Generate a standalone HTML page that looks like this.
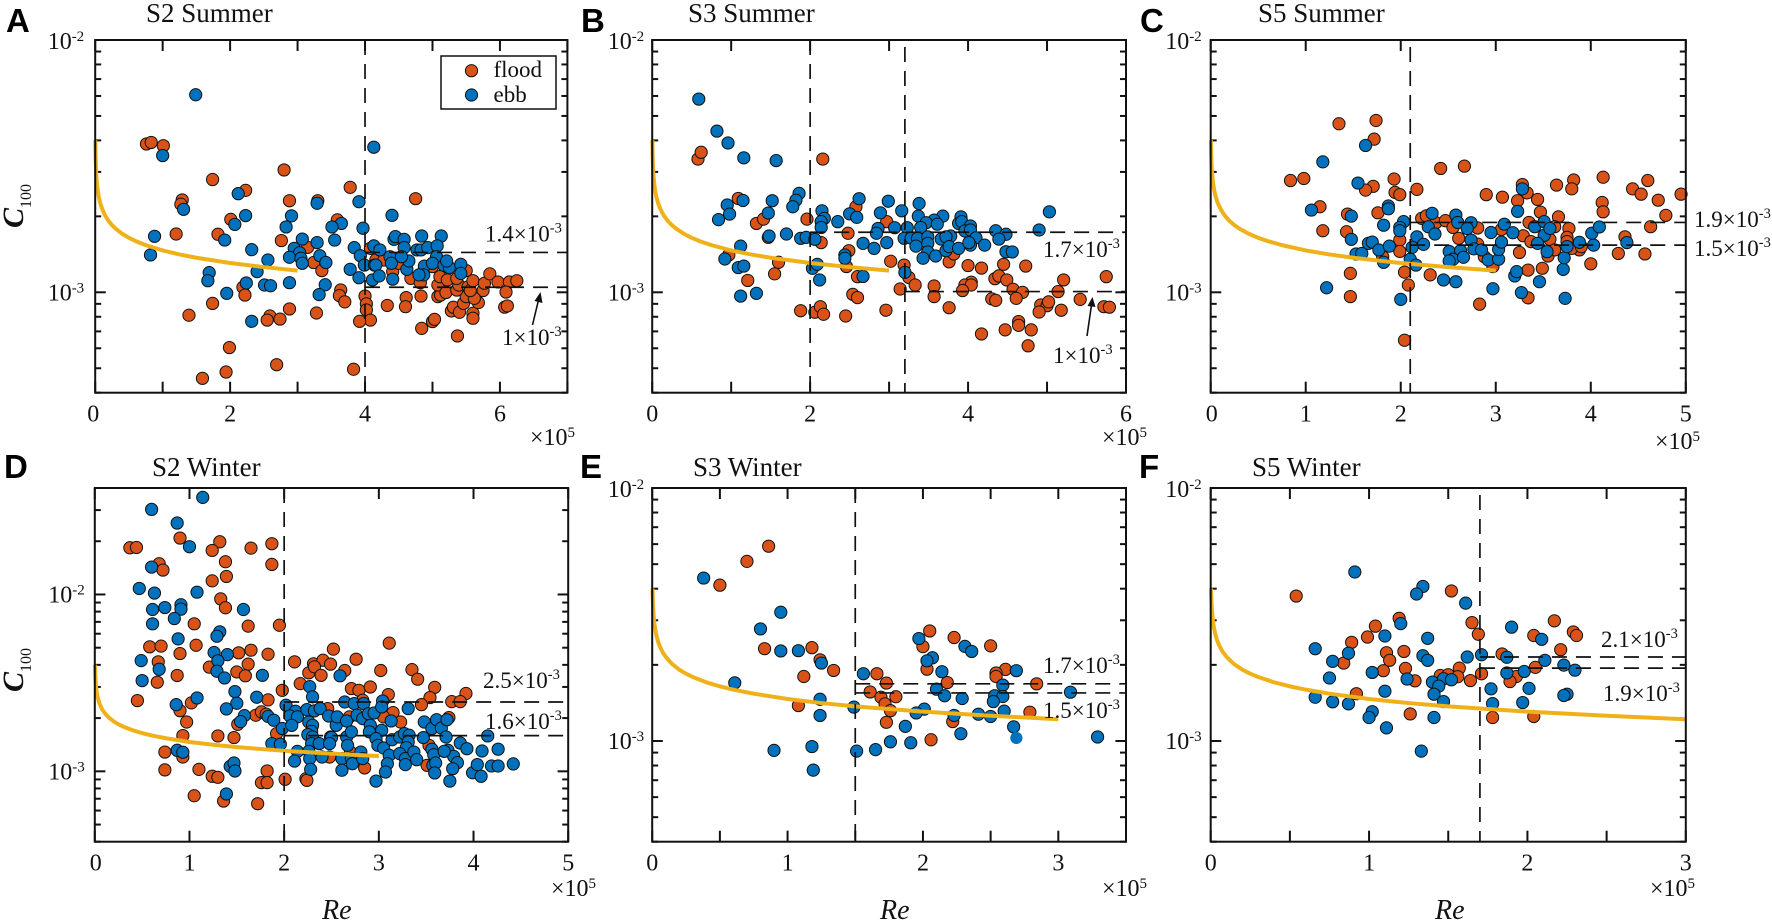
<!DOCTYPE html>
<html lang="en">
<head>
<meta charset="utf-8">
<title>C100 versus Re at S2, S3 and S5</title>
<style>
html,body{margin:0;padding:0;background:#fff;}
svg{display:block;}
text{font-family:"Liberation Serif",serif;fill:#111;}
.letter{font-family:"Liberation Sans",sans-serif;font-weight:700;font-size:33px;fill:#000;}
.title{font-size:27px;}
.note{font-size:23px;}
.re{font-size:28px;font-style:italic;}
.leg{font-size:23px;}
.mag{font-size:24px;}
</style>
</head>
<body>
<svg id="figure" xmlns="http://www.w3.org/2000/svg" width="1772" height="924" viewBox="0 0 1772 924">
<rect x="0" y="0" width="1772" height="924" fill="#fff"/>
<g id="plots"></g>
<g>
  <text class="letter" x="6" y="32">A</text>
  <text class="letter" x="581" y="32">B</text>
  <text class="letter" x="1140" y="32">C</text>
  <text class="letter" x="4" y="478">D</text>
  <text class="letter" x="580" y="478">E</text>
  <text class="letter" x="1139" y="478">F</text>

  <text class="title" x="146" y="22">S2 Summer</text>
  <text class="title" x="688" y="22">S3 Summer</text>
  <text class="title" x="1258" y="22">S5 Summer</text>
  <text class="title" x="152" y="476">S2 Winter</text>
  <text class="title" x="693" y="476">S3 Winter</text>
  <text class="title" x="1252" y="476">S5 Winter</text>

  <text transform="translate(23,228) rotate(-90)"><tspan font-size="30" font-style="italic" font-weight="700">C</tspan><tspan font-size="16" dy="8">100</tspan></text>
  <text transform="translate(23,692) rotate(-90)"><tspan font-size="30" font-style="italic" font-weight="700">C</tspan><tspan font-size="16" dy="8">100</tspan></text>
  <text class="re" x="322" y="919">Re</text>
  <text class="re" x="880" y="919">Re</text>
  <text class="re" x="1435" y="919">Re</text>

  <text class="mag" x="530" y="445">×10<tspan font-size="15" dy="-8">5</tspan></text>
  <text class="mag" x="1102" y="445">×10<tspan font-size="15" dy="-8">5</tspan></text>
  <text class="mag" x="1655" y="449">×10<tspan font-size="15" dy="-8">5</tspan></text>
  <text class="mag" x="551" y="896">×10<tspan font-size="15" dy="-8">5</tspan></text>
  <text class="mag" x="1102" y="896">×10<tspan font-size="15" dy="-8">5</tspan></text>
  <text class="mag" x="1650" y="896">×10<tspan font-size="15" dy="-8">5</tspan></text>

  <text class="note" x="485" y="241.5">1.4×10<tspan font-size="14.5" dy="-9">-3</tspan></text>
  <text class="note" x="502" y="345">1×10<tspan font-size="14.5" dy="-9">-3</tspan></text>
  <text class="note" x="1043" y="257">1.7×10<tspan font-size="14.5" dy="-9">-3</tspan></text>
  <text class="note" x="1053" y="363">1×10<tspan font-size="14.5" dy="-9">-3</tspan></text>
  <text class="note" x="1694" y="227">1.9×10<tspan font-size="14.5" dy="-9">-3</tspan></text>
  <text class="note" x="1694" y="256">1.5×10<tspan font-size="14.5" dy="-9">-3</tspan></text>
  <text class="note" x="483" y="688">2.5×10<tspan font-size="14.5" dy="-9">-3</tspan></text>
  <text class="note" x="485" y="729">1.6×10<tspan font-size="14.5" dy="-9">-3</tspan></text>
  <text class="note" x="1043" y="673">1.7×10<tspan font-size="14.5" dy="-9">-3</tspan></text>
  <text class="note" x="1043" y="718">1.5×10<tspan font-size="14.5" dy="-9">-3</tspan></text>
  <text class="note" x="1601" y="647">2.1×10<tspan font-size="14.5" dy="-9">-3</tspan></text>
  <text class="note" x="1603" y="701">1.9×10<tspan font-size="14.5" dy="-9">-3</tspan></text>

  <g>
    <line x1="532.5" y1="325" x2="538.5" y2="300" stroke="#111" stroke-width="1.6"/>
    <polygon points="540.5,292 542.5,303 534.5,301" fill="#111"/>
  </g>
  <g>
    <line x1="1087" y1="336" x2="1091.5" y2="305" stroke="#111" stroke-width="1.6"/>
    <polygon points="1092.5,297 1095.5,307 1087.5,306" fill="#111"/>
  </g>

  <g>
    <rect x="441" y="56" width="115" height="53" fill="#fff" stroke="#111" stroke-width="1.5"/>
    <circle cx="471.5" cy="70.7" r="6.1" fill="#D95319" stroke="#111" stroke-width="1"/>
    <text class="leg" x="493.5" y="77">flood</text>
    <circle cx="471.5" cy="95" r="6.1" fill="#0072BD" stroke="#111" stroke-width="1"/>
    <text class="leg" x="493.5" y="102">ebb</text>
  </g>
</g>
</svg>
<script>
/* Re is in units of 10^5; C100 values are stored as log10(C100). */
const curveRe = [0.0024,0.003,0.004,0.005,0.0075,0.01,0.015,0.02,0.03,0.04,0.05,0.06,0.075,0.1,0.125,0.15,0.2,0.25,0.3,0.4,0.5,0.6,0.75,1,1.25,1.5,2,2.5,3];
const curveLogC = [-2.397,-2.414,-2.434,-2.45,-2.479,-2.501,-2.53,-2.551,-2.58,-2.601,-2.617,-2.63,-2.647,-2.667,-2.683,-2.697,-2.718,-2.734,-2.747,-2.768,-2.784,-2.797,-2.813,-2.834,-2.85,-2.863,-2.884,-2.90,-2.914];

const aFloodRe = [.76,.83,1.01,1.74,2.80,2.23,1.29,1.27,2.88,3.30,
3.78,4.75,2.01,1.20,1.82,2.76,3.59,3.15,3.24,3.36,
3.64,3.62,3.70,4.00,4.02,4.02,4.08,3.92,4.33,4.61,
4.60,4.83,4.84,5.00,5.03,5.37,5.08,5.12,5.08,5.20,
2.19,2.22,1.74,1.39,2.88,3.28,2.59,2.55,2.74,1.99,
2.69,1.94,1.59,3.83,5.28,5.31,5.40,5.46,5.50,5.60,
5.60,5.68,5.75,5.62,5.36,5.39,5.53,5.56,5.60,5.77,
5.85,5.97,6.14,6.25,6.09,6.07,6.11,5.50,5.11,5.22,
5.36,4.68,4.82,4.41,4.50,4.08,4.16,4.28,5.00,5.22];
const aFloodLogC = [-2.412,-2.406,-2.419,-2.553,-2.515,-2.596,-2.634,-2.651,-2.637,-2.637,
-2.584,-2.629,-2.711,-2.769,-2.770,-2.795,-2.713,-2.822,-2.882,-2.914,
-2.991,-3.013,-3.038,-3.015,-3.046,-3.070,-3.110,-3.115,-3.052,-3.021,
-3.057,-3.015,-3.143,-3.116,-3.107,-3.173,-3.017,-3.011,-2.971,-3.001,
-2.980,-3.011,-3.044,-3.091,-3.066,-3.082,-3.094,-3.110,-3.106,-3.219,
-3.287,-3.316,-3.341,-3.305,-3.074,-3.059,-3.079,-3.044,-3.017,-3.083,
-3.103,-3.041,-2.993,-3.024,-2.991,-2.971,-2.978,-2.993,-2.954,-2.964,
-2.927,-2.959,-2.959,-2.954,-2.999,-3.059,-3.054,-2.914,-2.938,-2.951,
-2.945,-2.945,-2.962,-2.918,-2.885,-2.826,-2.872,-2.872,-2.898,-2.898];
const aEbbRe = [1.49,4.13,1.00,2.12,3.91,3.29,1.31,4.40,2.23,2.91,
2.07,2.83,3.65,3.51,3.97,.88,1.92,3.07,3.55,3.29,
4.43,4.45,4.58,4.84,5.13,3.84,2.32,2.95,3.03,2.88,
3.05,3.07,3.33,3.42,.82,2.56,2.40,1.69,1.67,2.24,
2.51,2.60,2.88,3.41,3.32,1.95,2.32,3.78,3.91,4.11,
4.41,4.13,4.22,3.93,3.99,4.14,4.16,4.21,4.37,4.39,
4.58,4.62,4.65,4.77,4.83,4.93,5.07,5.06,4.88,4.87,
4.80,5.00,5.17,5.25,5.42,5.42,5.21,4.54];
const aEbbLogC = [-2.217,-2.425,-2.458,-2.609,-2.641,-2.647,-2.671,-2.695,-2.696,-2.697,
-2.731,-2.741,-2.727,-2.741,-2.746,-2.778,-2.793,-2.789,-2.793,-2.803,
-2.79,-2.779,-2.79,-2.777,-2.777,-2.823,-2.831,-2.826,-2.843,-2.861,
-2.865,-2.885,-2.855,-2.882,-2.852,-2.872,-2.918,-2.922,-2.954,-2.963,
-2.971,-2.974,-2.962,-2.97,-3.009,-3.004,-3.115,-2.909,-2.942,-2.951,
-2.948,-2.816,-2.832,-2.855,-2.892,-2.892,-2.892,-2.935,-2.859,-2.885,
-2.823,-2.909,-2.876,-2.832,-2.832,-2.823,-2.816,-2.859,-2.896,-2.931,
-2.931,-2.885,-2.893,-2.902,-2.889,-2.925,-2.876,-2.859];

const bFloodRe = [.58,.62,2.16,1.09,1.32,1.41,1.47,1.96,2.58,2.14,
2.48,2.97,.97,1.60,1.55,1.21,2.49,2.46,2.60,3.02,
3.19,3.25,3.33,3.14,3.57,3.57,3.76,3.76,3.82,4.00,
4.17,4.45,4.73,4.34,4.39,4.49,4.04,3.96,4.04,3.93,
4.57,4.69,5.14,5.21,5.75,5.42,4.30,4.35,4.61,4.92,
5.00,5.02,4.90,5.18,5.72,5.79,4.64,4.64,4.47,4.80,
4.17,4.76,1.88,2.06,2.13,2.17,2.45,2.96,2.54,2.60];
const bFloodLogC = [-2.472,-2.445,-2.472,-2.628,-2.727,-2.71,-2.782,-2.71,-2.661,-2.803,
-2.766,-2.72,-2.852,-2.881,-2.927,-2.953,-2.835,-2.898,-2.938,-2.877,
-2.892,-2.941,-2.971,-2.987,-2.975,-3.017,-3.061,-2.879,-2.848,-2.894,
-2.904,-2.889,-2.896,-2.946,-2.935,-2.951,-2.96,-2.971,-2.971,-2.993,
-2.988,-3.0,-2.997,-2.951,-2.938,-3.028,-3.026,-3.032,-3.024,-3.05,
-3.053,-3.038,-3.078,-3.071,-3.057,-3.059,-3.116,-3.131,-3.149,-3.149,
-3.165,-3.212,-3.073,-3.079,-3.057,-3.087,-3.094,-3.071,-3.008,-3.021];
const bEbbRe = [.59,.82,.96,1.16,1.57,1.86,1.15,.95,1.52,1.82,
1.78,.98,.84,1.47,2.62,2.99,3.38,2.15,2.89,3.16,
2.50,2.59,2.18,2.14,2.35,2.14,3.37,3.68,3.57,3.47,
3.61,3.91,3.88,3.92,4.03,3.40,3.23,3.07,2.86,2.84,
1.70,1.48,1.88,1.95,2.06,4.35,4.48,4.90,5.03,3.96,
4.03,4.10,4.21,4.39,4.48,4.56,3.19,3.28,3.36,3.49,
3.78,3.66,3.72,2.97,2.67,2.81,3.34,3.49,3.49,3.59,
3.43,3.72,3.76,3.88,4.03,4.01,1.12,2.44,2.44,.92,
1.09,1.16,2.03,2.09,2.12,2.67,3.20,1.12,1.32];
const bEbbLogC = [-2.234,-2.361,-2.408,-2.467,-2.478,-2.608,-2.636,-2.654,-2.637,-2.635,
-2.661,-2.69,-2.712,-2.686,-2.629,-2.639,-2.648,-2.677,-2.685,-2.677,
-2.689,-2.703,-2.707,-2.72,-2.72,-2.743,-2.698,-2.698,-2.714,-2.724,
-2.73,-2.701,-2.727,-2.72,-2.737,-2.743,-2.744,-2.744,-2.747,-2.766,
-2.769,-2.777,-2.786,-2.782,-2.79,-2.756,-2.77,-2.753,-2.681,-2.757,
-2.753,-2.784,-2.813,-2.789,-2.839,-2.84,-2.786,-2.785,-2.786,-2.78,
-2.777,-2.789,-2.78,-2.803,-2.806,-2.826,-2.817,-2.806,-2.84,-2.856,
-2.865,-2.835,-2.819,-2.826,-2.813,-2.803,-2.817,-2.852,-2.865,-2.868,
-2.902,-2.896,-2.905,-2.889,-2.951,-2.937,-2.921,-3.015,-3.004];

const cFloodRe = [1.35,1.74,1.72,.84,.98,1.93,1.71,1.63,1.94,1.99,
2.17,2.42,2.67,2.90,3.07,3.28,3.33,3.44,3.23,3.64,
3.82,3.80,4.13,4.44,4.60,4.53,4.71,4.95,4.79,4.12,
4.13,1.15,1.76,1.44,1.18,1.43,1.99,1.99,1.47,1.47,
2.04,2.08,2.04,2.31,2.83,3.34,3.34,3.49,3.25,4.00,
4.29,4.57,4.36,4.63,3.47,3.66,3.35,3.77,3.75,3.75,
3.62,3.57,3.29,3.37,3.06,2.97,3.55,3.62,3.88,3.80,
3.90,2.22,2.27,2.37,2.47,2.55,2.81,2.61,2.81,2.88,
1.81];
const cFloodLogC = [-2.332,-2.319,-2.393,-2.557,-2.549,-2.551,-2.58,-2.595,-2.604,-2.613,
-2.592,-2.509,-2.5,-2.613,-2.623,-2.573,-2.606,-2.632,-2.637,-2.575,
-2.555,-2.59,-2.544,-2.59,-2.557,-2.611,-2.635,-2.611,-2.695,-2.644,
-2.681,-2.661,-2.685,-2.69,-2.756,-2.76,-2.793,-2.838,-2.925,-3.017,
-2.92,-2.971,-3.19,-2.931,-3.047,-3.022,-2.912,-2.905,-2.842,-2.887,
-2.846,-2.848,-2.78,-2.74,-2.682,-2.701,-2.723,-2.747,-2.782,-2.799,
-2.74,-2.79,-2.776,-2.799,-2.751,-2.898,-2.856,-2.832,-2.832,-2.826,
-2.819,-2.707,-2.697,-2.724,-2.716,-2.743,-2.745,-2.786,-2.809,-2.859,
-2.859];
const cEbbRe = [1.63,1.18,1.55,1.06,1.87,1.87,1.48,1.82,2.03,1.99,
1.99,1.48,1.66,1.70,1.53,1.59,1.77,1.88,1.82,1.22,
2.00,2.33,2.29,2.36,2.17,2.24,2.12,2.10,2.16,2.58,
2.60,2.74,2.70,2.74,2.51,2.63,2.77,2.85,2.55,2.51,
2.66,2.92,3.03,3.03,3.06,2.95,3.09,3.18,3.23,3.28,
3.41,3.51,3.51,3.44,3.57,3.54,2.45,2.58,2.97,3.20,
3.22,3.27,3.46,3.71,3.72,3.75,3.73,3.88,4.03,4.01,
4.09,4.38];
const cEbbLogC = [-2.418,-2.483,-2.567,-2.674,-2.658,-2.669,-2.698,-2.734,-2.72,-2.743,
-2.756,-2.79,-2.806,-2.801,-2.848,-2.846,-2.832,-2.817,-2.881,-2.982,
-3.028,-2.687,-2.74,-2.769,-2.78,-2.81,-2.822,-2.869,-2.892,-2.694,
-2.723,-2.724,-2.747,-2.793,-2.838,-2.835,-2.828,-2.832,-2.869,-2.876,
-2.861,-2.872,-2.869,-2.83,-2.801,-2.763,-2.73,-2.764,-2.679,-2.59,
-2.74,-2.72,-2.774,-2.806,-2.747,-2.839,-2.951,-2.958,-2.986,-2.935,
-2.918,-3.001,-2.958,-2.909,-2.863,-2.819,-3.024,-2.802,-2.813,-2.766,
-2.741,-2.803];

const dFloodRe = [.37,.44,.90,1.32,1.87,1.65,1.24,1.38,1.87,.68,
.72,1.39,1.24,1.33,1.38,1.05,1.62,1.95,.58,.70,
1.07,.90,1.52,1.65,1.83,.67,1.62,1.21,1.50,1.59,
.87,.66,.45,1.98,1.83,1.02,.90,.97,1.51,.93,
1.30,1.47,.74,.93,.74,1.10,1.24,1.30,1.82,1.76,
1.82,2.01,2.23,2.24,2.85,1.05,1.36,1.72,1.70,1.76,
1.81,1.92,2.11,2.52,2.31,2.41,2.49,2.76,3.11,2.26,
2.32,2.39,2.64,3.02,3.35,3.41,2.17,2.71,2.79,2.91,
3.10,3.59,3.54,3.92,3.77,3.86,3.45,2.83,2.46,2.69,
3.15,3.23,3.05,3.74,2.49,3.53,2.48,2.70,3.51];
const dFloodLogC = [-1.736,-1.734,-1.681,-1.702,-1.713,-1.738,-1.751,-1.815,-1.83,-1.826,
-1.862,-1.898,-1.923,-2.025,-2.075,-2.166,-2.179,-2.174,-2.296,-2.292,
-2.287,-2.334,-2.33,-2.315,-2.338,-2.381,-2.394,-2.411,-2.438,-2.46,
-2.458,-2.496,-2.6,-2.542,-2.596,-2.613,-2.657,-2.721,-2.734,-2.798,
-2.8,-2.809,-2.891,-2.919,-2.992,-2.989,-3.028,-3.034,-2.998,-3.064,
-3.064,-3.045,-3.042,-3.051,-2.981,-3.138,-3.168,-3.183,-2.683,-2.664,
-2.677,-2.787,-2.381,-2.309,-2.392,-2.372,-2.394,-2.366,-2.275,-2.443,
-2.409,-2.457,-2.43,-2.43,-2.425,-2.479,-2.504,-2.532,-2.542,-2.523,
-2.566,-2.525,-2.583,-2.56,-2.606,-2.606,-2.623,-2.598,-2.645,-2.692,
-2.668,-2.721,-2.692,-2.696,-2.806,-2.853,-2.919,-2.891,-2.966];
const dEbbRe = [1.14,.60,.87,1.00,.60,.47,.63,1.08,.61,.74,
.91,.91,.84,1.57,.61,1.32,1.29,.88,1.26,1.40,
1.30,.49,.68,1.29,.50,1.37,1.77,2.59,2.27,1.48,
1.50,1.39,1.08,.86,1.71,2.30,1.58,1.54,1.83,1.89,
1.98,1.87,1.96,.87,.93,1.43,1.47,1.48,1.39,2.02,
2.12,2.06,2.14,2.08,2.24,2.32,2.38,2.26,2.30,2.29,
2.25,2.30,2.29,2.37,2.14,2.11,2.26,2.27,2.28,2.40,
2.47,2.55,2.56,2.66,2.50,2.48,2.66,2.71,2.67,2.61,
2.61,2.71,2.72,2.81,2.83,2.64,2.74,2.84,2.77,2.83,
2.89,2.95,2.91,2.90,3.04,3.03,3.03,2.97,2.99,3.05,
3.13,3.14,3.11,3.09,3.07,2.97,3.22,3.27,3.32,3.31,
3.29,3.22,3.28,3.28,3.37,3.40,3.47,3.48,3.56,3.61,
3.66,3.72,3.31,3.71,3.56,3.58,3.57,3.60,3.59,3.73,
3.79,3.83,3.78,3.75,3.86,3.93,3.69,3.99,4.04,4.08,
4.09,4.15,4.19,4.26,4.26,4.42];
const dEbbLogC = [-1.451,-1.519,-1.596,-1.73,-1.845,-1.966,-1.992,-1.987,-2.085,-2.074,
-2.058,-2.083,-2.136,-2.085,-2.166,-2.211,-2.236,-2.251,-2.328,-2.34,
-2.375,-2.374,-2.423,-2.434,-2.487,-2.472,-2.457,-2.46,-2.521,-2.549,
-2.615,-2.647,-2.585,-2.623,-2.581,-2.579,-2.685,-2.719,-2.689,-2.711,
-2.758,-2.843,-2.847,-2.881,-2.892,-2.972,-2.953,-2.998,-3.128,-2.626,
-2.66,-2.687,-2.692,-2.74,-2.651,-2.658,-2.645,-2.721,-2.74,-2.774,
-2.792,-2.806,-2.843,-2.843,-2.887,-2.942,-2.887,-2.928,-2.989,-2.919,
-2.687,-2.74,-2.692,-2.715,-2.809,-2.843,-2.806,-2.777,-2.853,-2.928,
-2.994,-2.928,-2.957,-2.891,-2.928,-2.608,-2.617,-2.617,-2.683,-2.702,
-2.674,-2.67,-2.74,-2.777,-2.602,-2.636,-2.768,-2.815,-2.853,-2.868,
-2.715,-2.821,-2.909,-2.957,-3.004,-3.055,-2.806,-2.787,-2.796,-2.834,
-2.866,-2.9,-2.928,-2.962,-2.891,-2.934,-2.809,-2.721,-2.758,-2.708,
-2.755,-2.708,-2.645,-2.806,-2.875,-2.906,-2.966,-2.953,-3.009,-2.881,
-2.915,-2.951,-2.985,-3.055,-2.84,-2.872,-2.887,-3.008,-2.962,-3.028,
-2.885,-2.8,-2.97,-2.97,-2.875,-2.958];

const eFloodRe = [.86,.70,.50,.83,1.18,1.24,1.34,1.12,1.08,2.05,
2.23,2.50,2.00,2.03,2.61,2.54,2.54,1.66,1.73,2.18,
2.84,1.61,1.69,1.80,1.72,1.76,1.73,2.22,2.06,2.79];
const eFloodLogC = [-2.23,-2.29,-2.384,-2.635,-2.631,-2.679,-2.721,-2.745,-2.86,-2.565,
-2.591,-2.624,-2.627,-2.716,-2.717,-2.731,-2.745,-2.734,-2.771,-2.769,
-2.774,-2.806,-2.827,-2.825,-2.853,-2.88,-2.926,-2.923,-2.995,-2.886];
const eEbbRe = [.38,.95,.80,.95,1.08,1.25,.61,1.24,1.24,1.49,
1.56,1.97,2.31,2.36,2.07,2.03,2.14,2.69,2.59,2.10,
2.16,2.29,2.53,2.59,2.52,3.09,2.60,2.41,2.50,2.23,
2.01,1.95,1.87,1.76,1.91,1.65,1.51,1.18,.90,1.19,
2.28,2.67,3.29];
const eEbbLogC = [-2.356,-2.491,-2.557,-2.644,-2.643,-2.692,-2.77,-2.835,-2.899,-2.866,
-2.734,-2.595,-2.626,-2.646,-2.671,-2.683,-2.726,-2.722,-2.779,-2.795,
-2.821,-2.832,-2.821,-2.824,-2.844,-2.807,-2.882,-2.894,-2.903,-2.899,
-2.874,-2.889,-2.942,-3.003,-3.007,-3.034,-3.04,-3.022,-3.037,-3.115,
-2.971,-2.944,-2.984];
const eEbbPlainRe = [2.69];
const eEbbPlainLogC = [-2.988];

const fFloodRe = [.54,1.52,1.19,1.04,.99,.89,1.65,1.69,2.17,2.29,
2.31,2.04,2.21,1.84,1.11,1.22,1.13,.84,1.23,1.09,
1.57,2.05,1.45,1.50,1.56,1.29,1.64,1.71,1.93,1.89,
.92,1.26,1.78,2.04];
const fFloodLogC = [-2.427,-2.407,-2.515,-2.546,-2.589,-2.61,-2.532,-2.578,-2.525,-2.569,
-2.583,-2.583,-2.639,-2.656,-2.651,-2.646,-2.681,-2.692,-2.713,-2.722,
-2.712,-2.709,-2.741,-2.738,-2.746,-2.762,-2.761,-2.734,-2.745,-2.765,
-2.813,-2.893,-2.907,-2.903];
const fEbbRe = [.91,1.34,1.30,1.61,1.20,1.90,1.10,1.37,2.09,.66,
.87,1.34,1.71,1.62,1.87,.77,1.37,2.11,2.23,1.02,
2.30,1.87,1.98,.75,1.24,1.40,1.47,1.52,1.44,1.77,
2.01,1.10,1.41,2.25,2.23,.66,.77,.87,1.47,1.78,
1.97,1.02,1.00,1.41,1.11,1.33];
const fEbbLogC = [-2.332,-2.389,-2.419,-2.455,-2.536,-2.55,-2.585,-2.594,-2.598,-2.635,
-2.653,-2.663,-2.659,-2.668,-2.669,-2.685,-2.681,-2.681,-2.7,-2.729,
-2.72,-2.731,-2.725,-2.751,-2.755,-2.767,-2.754,-2.758,-2.783,-2.794,
-2.792,-2.803,-2.815,-2.815,-2.82,-2.827,-2.845,-2.853,-2.844,-2.852,
-2.848,-2.884,-2.907,-2.907,-2.948,-3.04];

const xTicksA = [0,1,2,3,4,5,6,7];
const xTickLabelsA = ['0','','2','','4','','6',''];
const xTicksB = [0,1,2,3,4,5,6];
const xTickLabelsB = ['0','','2','','4','','6'];
const xTicksC = [0,1,2,3,4,5];
const xTickLabelsC = ['0','1','2','3','4','5'];
const xTicksD = [0,1,2,3,4,5];
const xTickLabelsD = ['0','1','2','3','4','5'];
const xTicksE = [0,.5,1,1.5,2,2.5,3,3.5];
const xTickLabelsE = ['0','','1','','2','','3',''];
const xTicksF = [0,.5,1,1.5,2,2.5,3];
const xTickLabelsF = ['0','','1','','2','','3'];
const yLabelExponents = [-3,-2];
const yMinorMantissas = [2,3,4,5,6,7,8,9];

const thresholdsReA = [4];
const levelsLogCA = [-2.842,-2.98];
const levelStartReA = [4,4];
const thresholdsReB = [2,3.2];
const levelsLogCB = [-2.762,-2.997];
const levelStartReB = [2,3.2];
const thresholdsReC = [2.1];
const levelsLogCC = [-2.723,-2.813];
const levelStartReC = [2.1,2.1];
const thresholdsReD = [2];
const levelsLogCD = [-2.608,-2.798];
const levelStartReD = [2,2];
const thresholdsReE = [1.5];
const levelsLogCE = [-2.774,-2.81];
const levelStartReE = [1.5,1.5];
const thresholdsReF = [1.7];
const levelsLogCF = [-2.668,-2.712];
const levelStartReF = [1.7,1.7];

const SVGNS = 'http://www.w3.org/2000/svg';
const FLOOD = '#D95319';
const EBB = '#0072BD';
const CURVE = '#EFB11A';
const INK = '#111';

function make(tag, parent, attrs) {
  const el = document.createElementNS(SVGNS, tag);
  for (const k in attrs) el.setAttribute(k, attrs[k]);
  parent.appendChild(el);
  return el;
}

function drawPanel(p) {
  const g = make('g', document.getElementById('plots'), {});
  
  

  const xAt = v => p.left + (v / p.xMax) * (p.right - p.left);
  const yAt = v => p.top + ((p.yMax - v) / (p.yMax - p.yMin)) * (p.bottom - p.top);

  const bg = make('rect', g, {x: p.left, y: p.top, width: p.right - p.left, height: p.bottom - p.top, fill: '#fff'});
  
  

  const ticks = make('g', g, {stroke: INK, 'stroke-width': 2});
  
  

  p.xTicks.forEach((t, i) => {
    const x = xAt(t);
    const tb = make('line', ticks, {x1: x, x2: x, y1: p.bottom, y2: p.bottom - 11});
    
    
    const tt = make('line', ticks, {x1: x, x2: x, y1: p.top, y2: p.top + 11});
    
    
    if (p.xLabels[i] !== '') {
      const lab = make('text', g, {x: x + (t === 0 ? p.zeroShift : 0), y: p.bottom + 29, 'text-anchor': 'middle', 'font-size': 24});
      
      
      lab.textContent = p.xLabels[i];
    }
  });

  for (let e = Math.floor(p.yMin); e <= Math.ceil(p.yMax); e++) {
    yMinorMantissas.forEach(m => {
      const v = e + Math.log10(m);
      if (v < p.yMin - 0.001 || v > p.yMax + 0.001) return;
      const y = yAt(v);
      const tl = make('line', ticks, {x1: p.left, x2: p.left + 6, y1: y, y2: y});
      
      
      const tr = make('line', ticks, {x1: p.right, x2: p.right - 6, y1: y, y2: y});
      
      
    });
  }

  yLabelExponents.forEach(e => {
    const y = yAt(e);
    const tl = make('line', ticks, {x1: p.left, x2: p.left + 10.6, y1: y, y2: y});
    
    
    const tr = make('line', ticks, {x1: p.right, x2: p.right - 10.6, y1: y, y2: y});
    
    
    const lab = make('text', g, {x: p.left - p.labelGap, y: y + (Math.abs(y - p.top) < 1 ? 9 : 8), 'text-anchor': 'end', 'font-size': 24});
    
    
    lab.appendChild(document.createTextNode('10'));
    const sup = make('tspan', lab, {'font-size': 15, dy: -8});
    sup.textContent = String(e);
  });

  const dots = (xs, ys, name, fill, stroke) => {
    const layer = make('g', g, {});
    
    
    xs.forEach((v, i) => {
      const c = make('circle', layer, {cx: xAt(v), cy: yAt(ys[i]), r: 6.1, fill: fill, stroke: stroke, 'stroke-width': 1});
      
      
    });
  };
  dots(p.floodRe, p.floodLogC, 'flood', FLOOD, INK);
  dots(p.ebbRe, p.ebbLogC, 'ebb', EBB, INK);
  if (p.plainRe) dots(p.plainRe, p.plainLogC, 'ebb-no-edge', EBB, 'none');

  const pts = curveRe.map((v, i) => xAt(v) + ',' + yAt(curveLogC[i])).join(' ');
  const curve = make('polyline', g, {points: pts, fill: 'none', stroke: CURVE, 'stroke-width': 4, 'stroke-linejoin': 'round'});
  
  

  p.thresholds.forEach((t, i) => {
    const x = xAt(t);
    const line = make('line', g, {x1: x, x2: x, y1: p.vTops[i], y2: p.bottom, stroke: INK, 'stroke-width': 1.7, 'stroke-dasharray': '15 9'});
    
    
  });
  p.levels.forEach((l, i) => {
    const y = yAt(l);
    const line = make('line', g, {x1: xAt(p.levelStarts[i]), x2: p.right, y1: y, y2: y, stroke: INK, 'stroke-width': 1.7, 'stroke-dasharray': '15 9'});
    
    
  });

  const frame = make('rect', g, {x: p.left, y: p.top, width: p.right - p.left, height: p.bottom - p.top, fill: 'none', stroke: INK, 'stroke-width': 2});
  
  
}

const SUMMER_Y = {top: 40, bottom: 392.7, yMax: -2, yMin: Math.log10(4e-4)};
const WINTER_Y = {top: 488, bottom: 841.7, yMax: -2, yMin: Math.log10(4e-4)};

drawPanel({id: 'a', left: 95.2, right: 567.4, ...SUMMER_Y, labelGap: 11, zeroShift: -2, xMax: 7, xTicks: xTicksA, xLabels: xTickLabelsA,
  floodRe: aFloodRe, floodLogC: aFloodLogC, ebbRe: aEbbRe, ebbLogC: aEbbLogC,
  thresholds: thresholdsReA, vTops: [40], levels: levelsLogCA, levelStarts: levelStartReA});
drawPanel({id: 'b', left: 652.2, right: 1126, ...SUMMER_Y, labelGap: 8, zeroShift: 0, xMax: 6, xTicks: xTicksB, xLabels: xTickLabelsB,
  floodRe: bFloodRe, floodLogC: bFloodLogC, ebbRe: bEbbRe, ebbLogC: bEbbLogC,
  thresholds: thresholdsReB, vTops: [40, 47], levels: levelsLogCB, levelStarts: levelStartReB});
drawPanel({id: 'c', left: 1210.7, right: 1685.8, ...SUMMER_Y, labelGap: 9, zeroShift: 1, xMax: 5, xTicks: xTicksC, xLabels: xTickLabelsC,
  floodRe: cFloodRe, floodLogC: cFloodLogC, ebbRe: cEbbRe, ebbLogC: cEbbLogC,
  thresholds: thresholdsReC, vTops: [47], levels: levelsLogCC, levelStarts: levelStartReC});
drawPanel({id: 'd', left: 94.8, right: 568.2, top: 488, bottom: 841.7, yMax: Math.log10(4e-2), yMin: Math.log10(4e-4), labelGap: 10, zeroShift: 1, xMax: 5, xTicks: xTicksD, xLabels: xTickLabelsD,
  floodRe: dFloodRe, floodLogC: dFloodLogC, ebbRe: dEbbRe, ebbLogC: dEbbLogC,
  thresholds: thresholdsReD, vTops: [488], levels: levelsLogCD, levelStarts: levelStartReD});
drawPanel({id: 'e', left: 652.2, right: 1126, ...WINTER_Y, labelGap: 8, zeroShift: 0, xMax: 3.5, xTicks: xTicksE, xLabels: xTickLabelsE,
  floodRe: eFloodRe, floodLogC: eFloodLogC, ebbRe: eEbbRe, ebbLogC: eEbbLogC, plainRe: eEbbPlainRe, plainLogC: eEbbPlainLogC,
  thresholds: thresholdsReE, vTops: [488], levels: levelsLogCE, levelStarts: levelStartReE});
drawPanel({id: 'f', left: 1210.7, right: 1685.8, ...WINTER_Y, labelGap: 9, zeroShift: 0, xMax: 3, xTicks: xTicksF, xLabels: xTickLabelsF,
  floodRe: fFloodRe, floodLogC: fFloodLogC, ebbRe: fEbbRe, ebbLogC: fEbbLogC,
  thresholds: thresholdsReF, vTops: [495], levels: levelsLogCF, levelStarts: levelStartReF});
</script>
</body>
</html>
